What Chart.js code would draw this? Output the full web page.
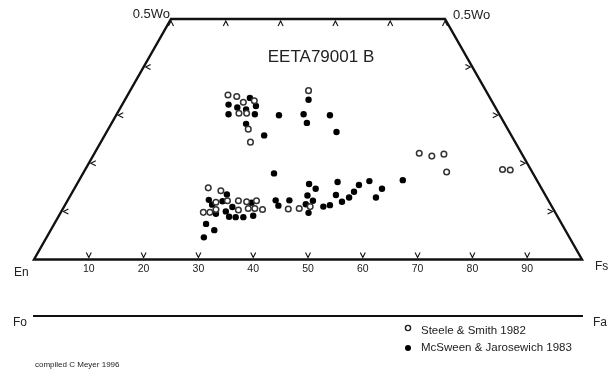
<!DOCTYPE html>
<html>
<head>
<meta charset="utf-8">
<script src="https://cdn.jsdelivr.net/npm/chart.js@4.4.0/dist/chart.umd.min.js"></script>
<style>
  html, body { margin: 0; padding: 0; background: #fff; }
  #wrap { width: 611px; height: 373px; }
</style>
</head>
<body>
<div id="wrap"><canvas id="quad" width="611" height="373"></canvas></div>
<script>
// x = position on the En-Fs scale, y = Wo (top edge is 0.5 Wo)
const steeleX = [35.4, 37.0, 38.2, 40.2, 37.4, 38.8, 39.1, 39.5, 50.1,
  31.8, 34.1, 33.2, 35.3, 37.3, 38.8, 40.6, 30.9, 32.1, 33.2, 37.3, 39.1, 40.3, 41.7, 46.4, 48.4, 50.4,
  70.3, 72.6, 74.8, 75.3, 85.5, 86.9];
const steeleWo = [34.2, 33.9, 32.7, 33.0, 30.4, 30.4, 27.1, 24.4, 35.1,
  14.9, 14.3, 11.9, 12.2, 12.2, 12.0, 12.2, 9.8, 9.8, 10.4, 10.3, 10.6, 10.6, 10.4, 10.5, 10.6, 11.0,
  22.1, 21.5, 21.9, 18.2, 18.7, 18.6];

const mcsweenX = [39.4, 35.5, 37.1, 38.7, 40.5, 35.5, 40.3, 38.7, 44.7, 42.0, 49.2, 50.1, 49.8, 54.0, 55.2,
  43.8, 50.2, 51.4, 55.4, 59.3, 35.2, 31.9, 34.4, 32.5, 35.0, 36.2, 33.2, 35.6, 36.8, 38.2, 40.0, 39.7,
  31.4, 32.9, 31.0, 44.1, 44.6, 46.6, 49.9, 50.9, 49.6, 50.1, 52.8, 54.0, 55.1, 56.2, 57.5, 58.4,
  61.2, 62.4, 63.5, 67.3];
const mcsweenWo = [33.6, 32.2, 31.6, 31.2, 31.9, 30.2, 30.2, 28.2, 30.0, 25.8, 30.2, 33.2, 28.4, 30.0, 26.5,
  17.9, 15.7, 14.7, 16.1, 15.5, 13.5, 12.4, 12.1, 11.4, 10.0, 10.9, 9.5, 8.9, 8.8, 8.8, 9.1, 11.8,
  7.4, 6.1, 4.6, 12.3, 11.2, 12.3, 13.3, 12.2, 11.5, 9.7, 11.0, 11.3, 13.4, 12.0, 12.9, 14.1,
  16.3, 12.9, 14.7, 16.5];

const fsTicks = [10, 20, 30, 40, 50, 60, 70, 80, 90];
const topTicks = [25, 35, 45, 55, 65, 75];
const woTicks = [10, 20, 30, 40];
const seriesNames = ['Steele & Smith 1982', 'McSween & Jarosewich 1983'];

const FONT = '"Liberation Sans", Arial, Helvetica, sans-serif';

function toPoints(xs, ys) {
  return xs.map((x, i) => ({ x: x, y: ys[i] }));
}

// draws the quadrilateral frame, ticks and all labels
const quadFrame = {
  id: 'quadFrame',
  beforeDatasetsDraw(chart) {
    const ctx = chart.ctx;
    const sx = chart.scales.x, sy = chart.scales.y;
    const px = v => sx.getPixelForValue(v);
    const py = v => sy.getPixelForValue(v);

    ctx.save();
    ctx.strokeStyle = '#111';
    ctx.lineJoin = 'miter';
    ctx.lineWidth = 2.4;
    ctx.beginPath();
    ctx.moveTo(px(0), py(0));
    ctx.lineTo(px(100), py(0));
    ctx.lineTo(px(75), py(50));
    ctx.lineTo(px(25), py(50));
    ctx.closePath();
    ctx.stroke();

    // chevron ticks
    ctx.lineWidth = 1.1;
    ctx.beginPath();
    fsTicks.forEach(t => {
      const x = px(t), y = py(0) - 2;
      ctx.moveTo(x - 2.5, y - 5); ctx.lineTo(x, y); ctx.lineTo(x + 2.5, y - 5);
    });
    topTicks.forEach(t => {
      const x = px(t), y = py(50) + 2;
      ctx.moveTo(x - 2.5, y + 5); ctx.lineTo(x, y); ctx.lineTo(x + 2.5, y + 5);
    });
    woTicks.forEach(w => {
      let x = px(w / 2) + 2, y = py(w);
      ctx.moveTo(x + 5, y - 2.5); ctx.lineTo(x, y); ctx.lineTo(x + 5, y + 2.5);
      x = px(100 - w / 2) - 2;
      ctx.moveTo(x - 5, y - 2.5); ctx.lineTo(x, y); ctx.lineTo(x - 5, y + 2.5);
    });
    ctx.stroke();

    // Fo - Fa line
    ctx.lineWidth = 2;
    ctx.beginPath();
    ctx.moveTo(33, 316);
    ctx.lineTo(583, 316);
    ctx.stroke();

    ctx.fillStyle = '#222';
    ctx.textBaseline = 'middle';
    ctx.font = '10.5px ' + FONT;
    ctx.textAlign = 'center';
    fsTicks.forEach(t => ctx.fillText(String(t), px(t), 269));

    ctx.font = '12px ' + FONT;
    ctx.textAlign = 'left';
    ctx.fillText('En', 14, 273);
    ctx.fillText('Fs', 595, 267);
    ctx.fillText('Fo', 13, 323);
    ctx.fillText('Fa', 593, 323);

    ctx.font = '13px ' + FONT;
    ctx.textAlign = 'right';
    ctx.fillText('0.5Wo', px(25) - 1, 14);
    ctx.textAlign = 'left';
    ctx.fillText('0.5Wo', px(75) + 8, 15);

    ctx.font = '17px ' + FONT;
    ctx.textAlign = 'center';
    ctx.fillText('EETA79001 B', 321, 57);

    // legend
    ctx.font = '11.5px ' + FONT;
    ctx.textAlign = 'left';
    ctx.fillText(seriesNames[0], 421, 331);
    ctx.fillText(seriesNames[1], 421, 348);
    ctx.beginPath();
    ctx.arc(408, 328, 2.6, 0, Math.PI * 2);
    ctx.lineWidth = 1.4;
    ctx.strokeStyle = '#222';
    ctx.stroke();
    ctx.beginPath();
    ctx.arc(408, 348, 3, 0, Math.PI * 2);
    ctx.fillStyle = '#000';
    ctx.fill();

    ctx.fillStyle = '#222';
    ctx.font = '8px ' + FONT;
    ctx.fillText('compiled C Meyer 1996', 35, 365);
    ctx.restore();
  }
};

new Chart(document.getElementById('quad'), {
  type: 'scatter',
  data: {
    datasets: [{
      label: seriesNames[0],
      data: toPoints(steeleX, steeleWo),
      pointRadius: 2.8,
      pointBackgroundColor: '#fff',
      pointBorderColor: '#333',
      pointBorderWidth: 1.5,
      clip: false
    }, {
      label: seriesNames[1],
      data: toPoints(mcsweenX, mcsweenWo),
      pointRadius: 3.2,
      pointBackgroundColor: '#000',
      pointBorderColor: '#000',
      pointBorderWidth: 0,
      clip: false
    }]
  },
  options: {
    responsive: false,
    animation: false,
    events: [],
    layout: {
      padding: { left: 34, right: 29, top: 19, bottom: 113.5 }
    },
    scales: {
      x: { type: 'linear', min: 0, max: 100, display: false },
      y: { type: 'linear', min: 0, max: 50, display: false }
    },
    plugins: {
      legend: { display: false },
      tooltip: { enabled: false }
    }
  },
  plugins: [quadFrame]
});
</script>
</body>
</html>
